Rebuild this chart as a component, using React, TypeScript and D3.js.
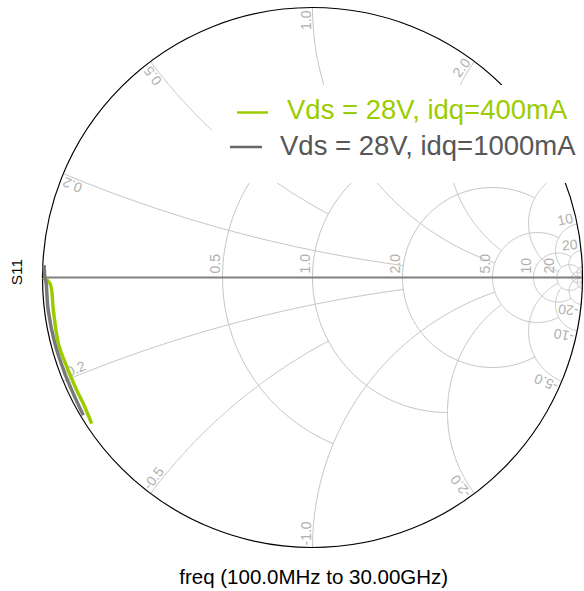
import React from 'react';
import * as d3 from 'd3';

const W = 584;
const H = 591;

// Smith chart grid definition
const rCircles = [0.5, 1, 2, 5, 10, 20, 50];
const rCircleMaxX = [1, 2, 5, 10, 20, Infinity, Infinity];
const rLabels = ['0.5', '1.0', '2.0', '5.0', '10', '20', ''];
const xArcs = [0.2, 0.5, 1, 2, 5, 10, 20, 50];
const xArcMaxR = [2, 1, 5, 5, 20, 20, Infinity, Infinity];
const xLabels = ['0.2', '0.5', '1.0', '2.0', '5.0', '10', '20', ''];

// S11 traces (reflection coefficient, real / imaginary)
const s11_400_re = [-0.998, -0.972, -0.96, -0.941, -0.91, -0.873, -0.849, -0.818];
const s11_400_im = [0.0, -0.023, -0.12, -0.245, -0.331, -0.418, -0.467, -0.541];
const s11_1000_re = [-0.994, -0.991, -0.987, -0.979, -0.954, -0.917, -0.886, -0.849];
const s11_1000_im = [0.046, 0.0, -0.017, -0.12, -0.245, -0.356, -0.43, -0.51];

const seriesNames = ['Vds = 28V, idq=400mA', 'Vds = 28V, idq=1000mA'];
const seriesColors = ['#9bcc00', '#7a7a7a'];
const legendTextColors = ['#9bcc00', '#575757'];

const cx = 312.5;
const cy = 277.5;
const R = 270;

const sx = d3.scaleLinear().domain([-1, 1]).range([cx - R, cx + R]);
const sy = d3.scaleLinear().domain([-1, 1]).range([cy + R, cy - R]);

function gam(r: number, x: number): [number, number] {
  if (!isFinite(r) || !isFinite(x)) return [1, 0];
  const D = (r + 1) * (r + 1) + x * x;
  return [(r * r + x * x - 1) / D, (2 * x) / D];
}

const line = d3
  .line<[number, number]>()
  .x((d) => sx(d[0]))
  .y((d) => sy(d[1]));

function rCirclePath(r: number, xmax: number): string {
  const c = r / (1 + r);
  const rho = 1 / (1 + r);
  let phi = 0;
  if (isFinite(xmax)) {
    const p = gam(r, xmax);
    phi = Math.atan2(p[1], p[0] - c);
  }
  const n = 240;
  const pts: [number, number][] = [];
  for (let i = 0; i <= n; i++) {
    const a = phi + ((2 * Math.PI - 2 * phi) * i) / n;
    pts.push([c + rho * Math.cos(a), rho * Math.sin(a)]);
  }
  return line(pts) || '';
}

function xArcPath(x: number, rmax: number): string {
  const ccx = 1;
  const ccy = 1 / x;
  const rho = 1 / Math.abs(x);
  const p0 = gam(0, x);
  const p1 = gam(rmax, x);
  const a0 = Math.atan2(p0[1] - ccy, p0[0] - ccx);
  let a1 = Math.atan2(p1[1] - ccy, p1[0] - ccx);
  let d = a1 - a0;
  while (d > Math.PI) d -= 2 * Math.PI;
  while (d < -Math.PI) d += 2 * Math.PI;
  const n = 200;
  const pts: [number, number][] = [];
  for (let i = 0; i <= n; i++) {
    const a = a0 + (d * i) / n;
    pts.push([ccx + rho * Math.cos(a), ccy + rho * Math.sin(a)]);
  }
  return line(pts) || '';
}

const GRID = '#c2c2c2';
const LABEL = '#b0b0b0';
const FONT = 'Liberation Sans, Arial, Helvetica, sans-serif';

export default function App() {
  const traces = [
    s11_400_re.map((u, i) => [u, s11_400_im[i]] as [number, number]),
    s11_1000_re.map((u, i) => [u, s11_1000_im[i]] as [number, number]),
  ];

  const xItems: { x: number; rmax: number; label: string }[] = [];
  xArcs.forEach((x, i) => {
    xItems.push({ x, rmax: xArcMaxR[i], label: xLabels[i] });
    xItems.push({ x: -x, rmax: xArcMaxR[i], label: xLabels[i] ? '-' + xLabels[i] : '' });
  });

  return (
    <svg width={W} height={H} style={{ display: 'block', position: 'absolute', left: 0, top: 0 }} fontFamily={FONT}>
      <rect x={0} y={0} width={W} height={H} fill="#fff" />
      {/* resistance circles */}
      {rCircles.map((r, i) => (
        <path key={'r' + i} d={rCirclePath(r, rCircleMaxX[i])} fill="none" stroke={GRID} strokeWidth={1} />
      ))}
      {/* reactance arcs */}
      {xItems.map((it, i) => (
        <path key={'x' + i} d={xArcPath(it.x, it.rmax)} fill="none" stroke={GRID} strokeWidth={1} />
      ))}
      {/* resistance labels */}
      {rCircles.map((r, i) => {
        const xc = sx((r - 1) / (r + 1));
        return (
          <text
            key={'rl' + i}
            transform={`translate(${xc},${cy}) rotate(-90)`}
            x={4}
            y={-2.5}
            fontSize={14}
            fill={LABEL}
            textAnchor="start"
          >
            {rLabels[i]}
          </text>
        );
      })}
      {/* reactance labels */}
      {xItems.map((it, i) => {
        if (!it.label) return null;
        const p = gam(0, it.x);
        const bx = sx(p[0]);
        const by = sy(p[1]);
        const out = (Math.atan2(by - cy, bx - cx) * 180) / Math.PI;
        if (it.x > 0) {
          return (
            <text
              key={'xl' + i}
              transform={`translate(${bx},${by}) rotate(${out})`}
              x={-3}
              y={-2}
              fontSize={14}
              fill={LABEL}
              textAnchor="end"
            >
              {it.label}
            </text>
          );
        }
        return (
          <text
            key={'xl' + i}
            transform={`translate(${bx},${by}) rotate(${out + 180})`}
            x={2}
            y={-2}
            fontSize={14}
            fill={LABEL}
            textAnchor="start"
          >
            {it.label}
          </text>
        );
      })}
      {/* real axis */}
      <line x1={sx(-1)} x2={sx(1)} y1={sy(0)} y2={sy(0)} stroke="#808080" strokeWidth={2} />
      {/* outer circle */}
      <circle cx={cx} cy={cy} r={R} fill="none" stroke="#000" strokeWidth={1.2} />
      {/* legend background */}
      <rect x={212} y={85} width={W - 212} height={98} fill="#fff" />
      {/* legend */}
      <line x1={237} x2={268} y1={112.5} y2={112.5} stroke={seriesColors[0]} strokeWidth={2.5} />
      <text x={287} y={118.5} fontSize={27.5} fill={legendTextColors[0]}>
        {seriesNames[0]}
      </text>
      <line x1={230} x2={262} y1={147} y2={147} stroke="#666" strokeWidth={2.5} />
      <text x={280} y={155} fontSize={27.5} fill={legendTextColors[1]}>
        {seriesNames[1]}
      </text>
      {/* traces */}
      {traces.map((t, i) => (
        <path
          key={'t' + i}
          d={d3.line<[number, number]>().x((d) => sx(d[0])).y((d) => sy(d[1])).curve(d3.curveCatmullRom)(t) || ''}
          fill="none"
          stroke={seriesColors[i]}
          strokeWidth={3.5}
          strokeLinejoin="round"
        />
      ))}
      {/* axis titles */}
      <text transform="translate(22,272) rotate(-90)" fontSize={15.5} fill="#000" textAnchor="middle">
        S11
      </text>
      <text x={313.7} y={584} fontSize={20.5} fill="#000" textAnchor="middle">
        freq (100.0MHz to 30.00GHz)
      </text>
    </svg>
  );
}
